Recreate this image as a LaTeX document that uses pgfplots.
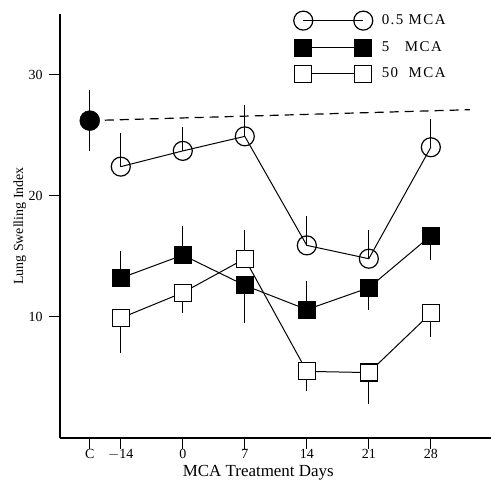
\documentclass[border=0pt]{standalone}
\usepackage{pgfplots}
\pgfplotsset{compat=1.18}
\usepackage{fontspec}
\setmainfont{Liberation Serif}
\begin{document}
\begin{tikzpicture}
\begin{axis}[
  scale only axis,
  width=431bp, height=424bp,
  xmin=-0.98, xmax=5.97,
  ymin=0, ymax=35,
  axis lines=left,
  axis line style={-, line width=1.2pt},
  tick align=outside,
  major tick length=11bp,
  x tick style={line width=1pt, black},
  y tick style={line width=1.2pt, black},
  xtick={-0.5,0,1,2,3,4,5},
  xticklabels={C,$-$14,0,7,14,21,28},
  ytick={10,20,30},
  /pgf/number format/assume math mode=true,
  tick label style={font=\fontsize{14}{16}\selectfont},
  x tick label style={yshift=3bp},
  y tick label style={xshift=-3bp},
  xlabel={MCA Treatment Days},
  ylabel={Lung Swelling Index},
  xlabel style={font=\fontsize{17}{19}\selectfont, at={(axis description cs:0.46,0)}, anchor=center, yshift=-35bp},
  ylabel style={font=\fontsize{14}{16}\selectfont, at={(axis description cs:-0.093,0.5)}, anchor=center},
  legend style={draw=none, fill=none, at={(0.535,1.012)}, anchor=north west,
    font=\fontsize{15}{17}\selectfont\addfontfeature{LetterSpace=10}, row sep=9bp},
  legend cell align=left,
  legend image code/.code={\draw[#1, mark repeat=2, mark phase=1] plot coordinates {(0bp,0bp) (30bp,0bp) (60bp,0bp)}; \path (0bp,0bp) (76bp,0bp);},
  error bars/y dir=both, error bars/y explicit,
  error bars/error mark=none,
  error bars/error bar style={line width=1pt, black},
]
% error bars first (drawn beneath the marks)
\addplot[draw=none, mark=none, forget plot] coordinates {
 (0,22.4) += (0,2.8) -= (0,0)
 (1,23.7) += (0,2.0) -= (0,0)
 (2,24.9) += (0,2.6) -= (0,0)
 (3,15.9) += (0,2.4) -= (0,0)
 (4,14.8) += (0,2.4) -= (0,0)
 (5,24.0) += (0,2.3) -= (0,0)
 (0,13.2) += (0,2.2) -= (0,0)
 (1,15.1) += (0,2.4) -= (0,0)
 (2,12.6) += (0,0) -= (0,3.1)
 (3,10.6) += (0,2.4) -= (0,0)
 (4,12.4) += (0,0) -= (0,1.8)
 (5,16.7) += (0,0) -= (0,2.0)
 (0,9.9) += (0,0) -= (0,2.9)
 (1,12.0) += (0,0) -= (0,1.7)
 (2,14.8) += (0,2.4) -= (0,0)
 (3,5.5) += (0,0) -= (0,1.6)
 (4,5.4) += (0,0) -= (0,2.6)
 (5,10.3) += (0,0) -= (0,2.0)
 (-0.5,26.2) += (0,2.5) -= (0,2.5)
};
% control dashed line
\addplot[black, line width=1.2pt, dash pattern=on 9bp off 6bp, forget plot]
 coordinates {(-0.5,26.2) (5.63,27.1)};
% 0.5 MCA
\addplot[black, line width=1pt, mark=o, mark size=9.5bp, mark options={fill=white, line width=1.2pt, solid}]
 coordinates {(0,22.4) (1,23.7) (2,24.9) (3,15.9) (4,14.8) (5,24.0)};
\addlegendentry{0.5 MCA}
% 5 MCA
\addplot[black, line width=1pt, mark=square*, mark size=8.5bp, mark options={fill=black}]
 coordinates {(0,13.2) (1,15.1) (2,12.6) (3,10.6) (4,12.4) (5,16.7)};
\addlegendentry{5 \ \ MCA}
% 50 MCA
\addplot[black, line width=1pt, mark=square*, mark size=8.5bp, mark options={fill=white, line width=1.2pt}]
 coordinates {(0,9.9) (1,12.0) (2,14.8) (3,5.5) (4,5.4) (5,10.3)};
\addlegendentry{50 \ MCA}
% control point
\addplot[black, only marks, mark=*, mark size=10bp, forget plot]
 coordinates {(-0.5,26.2)};
\coordinate (LL) at (rel axis cs:0,0);
\coordinate (UR) at (rel axis cs:1,1);
\end{axis}
\pgfresetboundingbox
\path[use as bounding box] ([xshift=-60bp,yshift=-50bp]LL) rectangle ([yshift=14bp]UR);
\end{tikzpicture}
\end{document}
